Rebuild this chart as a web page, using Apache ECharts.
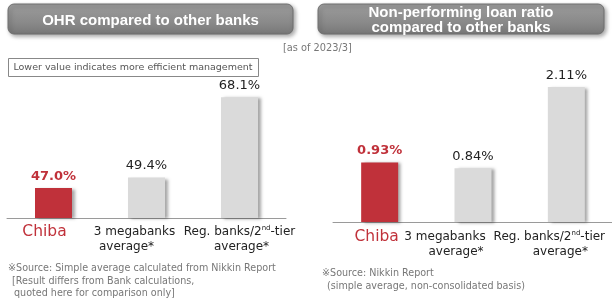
<!DOCTYPE html>
<html>
<head>
<meta charset="utf-8">
<script src="https://cdn.jsdelivr.net/npm/echarts@6/dist/echarts.min.js"></script>
<style>
  html, body { margin: 0; padding: 0; background: #fff; }
  #chart { width: 612px; height: 299px; }
</style>
</head>
<body>
<div id="chart"></div>
<script>
// data
const categories = ['Chiba', '3 megabanks\naverage*', 'Reg. banks/2nd-tier\naverage*']
const ohrValues = [47.0, 49.4, 68.1]
const nplValues = [0.93, 0.84, 2.11]
const ohrAxis = { min: 40, max: 80 }
const nplAxis = { min: 0, max: 3 }

const RED = '#c0313a'
const GRAY = '#dadada'
const FONT = 'DejaVu Sans'
const TITLE_FONT = 'Liberation Sans'

// horizontal nudge of each label line (the source placed them by hand)
const labelShift = [
  [[-9], [-12, -20], [0, 2]],
  [[-3], [-28, -17], [-17, -6]]
]

function barItems(values, fmt) {
  return values.map((v, i) => {
    const first = i === 0
    return {
      value: v,
      itemStyle: {
        color: first ? RED : GRAY,
        shadowColor: 'rgba(0,0,0,0.35)',
        shadowBlur: 3,
        shadowOffsetX: 3,
        shadowOffsetY: 1
      },
      label: {
        show: true,
        position: 'top',
        distance: 5,
        formatter: fmt,
        fontFamily: FONT,
        fontSize: 13,
        fontWeight: first ? 'bold' : 'normal',
        color: first ? RED : '#222'
      }
    }
  })
}

function pad(d) {
  return d < 0 ? [0, -2 * d, 0, 0] : [0, 0, 0, 2 * d]
}

function catLabel(g, margin) {
  const sh = labelShift[g]
  const c = { fontFamily: FONT, fontSize: 15.5, color: RED, lineHeight: 15 }
  const t = { fontFamily: FONT, fontSize: 12, color: '#222', lineHeight: 15 }
  const rich = {
    c0: Object.assign({}, c, { padding: pad(sh[0][0]) }),
    a0: Object.assign({}, t, { padding: pad(sh[1][0]) }),
    a1: Object.assign({}, t, { padding: pad(sh[1][1]) }),
    r0: Object.assign({}, t, { padding: [0, 0, 0, Math.max(0, 2 * sh[2][0])] }),
    r1: { fontFamily: FONT, fontSize: 7, color: '#222', lineHeight: 15, verticalAlign: 'top', padding: [1, 0, 0, 0] },
    r2: Object.assign({}, t, { padding: [0, Math.max(0, -2 * sh[2][0]), 0, 0] }),
    b1: Object.assign({}, t, { padding: pad(sh[2][1]) })
  }
  return {
    interval: 0,
    margin: margin,
    formatter: (val, idx) => {
      if (idx === 0) return '{c0|' + val + '}'
      const lines = val.split('\n')
      if (idx === 1) return '{a0|' + lines[0] + '}\n{a1|' + lines[1] + '}'
      const m = lines[0].match(/^(.*\d)(nd)(.*)$/)
      return '{r0|' + m[1] + '}{r1|' + m[2] + '}{r2|' + m[3] + '}\n{b1|' + lines[1] + '}'
    },
    rich: rich
  }
}

function titleBox(x, w, lines) {
  return {
    type: 'group',
    children: [
      {
        type: 'rect',
        shape: { x: x, y: 4, width: w, height: 30, r: 6 },
        style: {
          fill: new echarts.graphic.LinearGradient(0, 0, 0, 1, [
            { offset: 0, color: '#9c9c9c' },
            { offset: 0.6, color: '#8a8a8a' },
            { offset: 1, color: '#777' }
          ]),
          stroke: '#6e6e6e',
          lineWidth: 1,
          shadowColor: 'rgba(0,0,0,0.35)',
          shadowBlur: 4,
          shadowOffsetX: 2,
          shadowOffsetY: 2
        }
      },
      {
        type: 'text',
        x: x + w / 2,
        y: 20.5,
        style: {
          text: lines,
          fill: '#fff',
          font: 'bold 15px "' + TITLE_FONT + '"',
          align: 'center',
          verticalAlign: 'middle',
          lineHeight: 15
        }
      }
    ]
  }
}

function note(x, y, text, size) {
  return {
    type: 'text',
    x: x,
    y: y,
    style: {
      text: text,
      fill: '#777',
      font: size + 'px "' + FONT + '"',
      verticalAlign: 'middle'
    }
  }
}

const chart = echarts.init(document.getElementById('chart'), null, { renderer: 'canvas' })
chart.setOption({
  animation: false,
  grid: [
    { left: 7, top: 46, width: 279, height: 172, containLabel: false, outerBoundsMode: 'none' },
    { left: 333, top: 30, width: 280, height: 192, containLabel: false, outerBoundsMode: 'none' }
  ],
  xAxis: [0, 1].map(i => ({
    type: 'category',
    gridIndex: i,
    data: categories,
    axisTick: { show: false },
    axisLine: { lineStyle: { color: '#9a9a9a', width: 1 } },
    axisLabel: catLabel(i, i === 0 ? 6 : 7)
  })),
  yAxis: [
    { type: 'value', gridIndex: 0, min: ohrAxis.min, max: ohrAxis.max, show: false, splitLine: { show: false } },
    { type: 'value', gridIndex: 1, min: nplAxis.min, max: nplAxis.max, show: false, splitLine: { show: false } }
  ],
  series: [
    {
      type: 'bar', xAxisIndex: 0, yAxisIndex: 0, barWidth: 37,
      data: barItems(ohrValues, p => p.value.toFixed(1) + '%')
    },
    {
      type: 'bar', xAxisIndex: 1, yAxisIndex: 1, barWidth: 37,
      data: barItems(nplValues, p => p.value.toFixed(2) + '%')
    }
  ],
  graphic: [
    titleBox(8, 285, 'OHR compared to other banks'),
    titleBox(318, 286, 'Non-performing loan ratio\ncompared to other banks'),
    {
      type: 'rect',
      shape: { x: 8.5, y: 58.5, width: 250, height: 18 },
      style: { fill: '#fff', stroke: '#888', lineWidth: 1 }
    },
    {
      type: 'text',
      x: 133,
      y: 68,
      style: {
        text: 'Lower value indicates more efficient management',
        fill: '#555',
        font: '9.5px "' + FONT + '"',
        align: 'center',
        verticalAlign: 'middle'
      }
    },
    note(283, 48, '[as of 2023/3]', 9.8),
    note(8, 268, '※Source: Simple average calculated from Nikkin Report', 9.6),
    note(12, 281, '[Result differs from Bank calculations,', 9.6),
    note(14, 293, 'quoted here for comparison only]', 9.6),
    note(322, 273, '※Source: Nikkin Report', 9.6),
    note(327, 286, '(simple average, non-consolidated basis)', 9.6)
  ]
})
</script>
</body>
</html>
